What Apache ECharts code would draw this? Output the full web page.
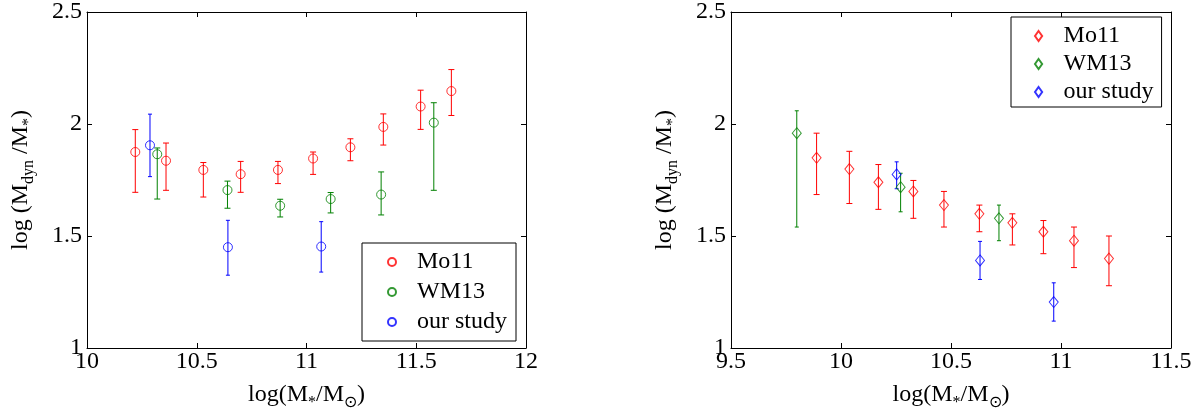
<!DOCTYPE html>
<html>
<head>
<meta charset="utf-8">
<script src="https://cdn.jsdelivr.net/npm/echarts@6/dist/echarts.min.js"></script>
<style>html,body{margin:0;padding:0;background:#fff}#c{width:1203px;height:416px}</style>
</head>
<body>
<div id="c"></div>
<script>
// ---- Left panel (circles) ----
const leftMo11X  = [10.22, 10.36, 10.53, 10.70, 10.87, 11.03, 11.20, 11.35, 11.52, 11.66];
const leftMo11Y  = [1.875, 1.836, 1.795, 1.776, 1.795, 1.846, 1.896, 1.987, 2.078, 2.147];
const leftMo11Lo = [1.695, 1.704, 1.674, 1.695, 1.734, 1.775, 1.836, 1.906, 1.976, 2.038];
const leftMo11Hi = [1.975, 1.915, 1.828, 1.833, 1.833, 1.875, 1.934, 2.045, 2.151, 2.243];

const leftWM13X  = [10.32, 10.64, 10.88, 11.11, 11.34, 11.58];
const leftWM13Y  = [1.865, 1.705, 1.635, 1.665, 1.685, 2.006];
const leftWM13Lo = [1.665, 1.624, 1.585, 1.603, 1.594, 1.704];
const leftWM13Hi = [1.893, 1.745, 1.664, 1.694, 1.786, 2.095];

const leftOursX  = [10.287, 10.642, 11.067];
const leftOursY  = [1.905, 1.450, 1.453];
const leftOursLo = [1.765, 1.325, 1.339];
const leftOursHi = [2.044, 1.570, 1.564];

// ---- Right panel (diamonds) ----
const rightMo11X  = [9.889, 10.038, 10.170, 10.329, 10.468, 10.629, 10.779, 10.920, 11.059, 11.218];
const rightMo11Y  = [1.849, 1.799, 1.740, 1.699, 1.638, 1.599, 1.559, 1.519, 1.479, 1.399];
const rightMo11Lo = [1.685, 1.645, 1.619, 1.579, 1.540, 1.519, 1.460, 1.421, 1.359, 1.278];
const rightMo11Hi = [1.959, 1.878, 1.819, 1.748, 1.699, 1.638, 1.599, 1.569, 1.540, 1.500];

const rightWM13X  = [9.799, 10.271, 10.718];
const rightWM13Y  = [1.959, 1.718, 1.579];
const rightWM13Lo = [1.540, 1.608, 1.479];
const rightWM13Hi = [2.059, 1.780, 1.638];

const rightOursX  = [10.253, 10.632, 10.967];
const rightOursY  = [1.775, 1.391, 1.205];
const rightOursLo = [1.711, 1.306, 1.120];
const rightOursHi = [1.831, 1.476, 1.291];

const seriesNames = ['Mo11', 'WM13', 'our study'];
const leftXTicks  = {min: 10, max: 12, interval: 0.5};
const rightXTicks = {min: 9.5, max: 11.5, interval: 0.5};
const yTicks      = {min: 1, max: 2.5, interval: 0.5};

const RED = '#ff0000', GREEN = '#008000', BLUE = '#0000ff';
const FONT = 'Liberation Serif';

function pts(xs, ys) { return xs.map((x, i) => [x, ys[i]]); }
function errs(xs, lo, hi) { return xs.map((x, i) => [x, lo[i], hi[i]]); }

function errRender(capHalf) {
  return function (params, api) {
    const x = api.value(0), lo = api.value(1), hi = api.value(2);
    const a = api.coord([x, lo]), b = api.coord([x, hi]);
    const st = {stroke: api.visual('color'), lineWidth: 1};
    return {
      type: 'group',
      children: [
        {type: 'line', shape: {x1: a[0], y1: a[1], x2: b[0], y2: b[1]}, style: st},
        {type: 'line', shape: {x1: a[0] - capHalf, y1: a[1], x2: a[0] + capHalf, y2: a[1]}, style: st},
        {type: 'line', shape: {x1: b[0] - capHalf, y1: b[1], x2: b[0] + capHalf, y2: b[1]}, style: st}
      ]
    };
  };
}

function errSeries(id, gi, data, color, cap) {
  return {
    type: 'custom', name: id, xAxisIndex: gi * 2, yAxisIndex: gi * 2,
    data: data, encode: {x: 0, y: [1, 2]},
    itemStyle: {color: color}, renderItem: errRender(cap), silent: true, z: 2
  };
}
function markSeries(name, gi, data, color, symbol, size) {
  return {
    type: 'scatter', name: name, xAxisIndex: gi * 2, yAxisIndex: gi * 2,
    data: data, symbol: symbol, symbolSize: size,
    itemStyle: {color: 'rgba(0,0,0,0)', borderColor: color, borderWidth: 1},
    z: 3
  };
}

const tickLbl = {fontFamily: FONT, fontSize: 24, color: '#000'};
const nameRich = {
  n: {fontFamily: FONT, fontSize: 24, color: '#000', lineHeight: 24, verticalAlign: 'top'},
  s: {fontFamily: FONT, fontSize: 16, color: '#000', lineHeight: 16, verticalAlign: 'top', padding: [12, 0, 0, 0]}
};
function xAx(gi, t, pos, showLabels, nameTxt) {
  return {
    type: 'value', gridIndex: gi, position: pos, min: t.min, max: t.max, interval: t.interval,
    axisLine: {show: true, onZero: false, lineStyle: {color: '#000', width: 1}},
    axisTick: {show: true, inside: true, length: 5, lineStyle: {color: '#000'}},
    axisLabel: Object.assign({show: showLabels, margin: 2, showMinLabel: true, showMaxLabel: true}, tickLbl),
    splitLine: {show: false},
    name: nameTxt || '', nameLocation: 'middle', nameGap: 35,
    nameTextStyle: {fontFamily: FONT, fontSize: 24, color: '#000', rich: nameRich}
  };
}
function yAx(gi, t, pos, showLabels, nameTxt) {
  return {
    type: 'value', gridIndex: gi, position: pos, min: t.min, max: t.max, interval: t.interval,
    axisLine: {show: true, onZero: false, lineStyle: {color: '#000', width: 1}},
    axisTick: {show: true, inside: true, length: 5, lineStyle: {color: '#000'}},
    axisLabel: Object.assign({show: showLabels, margin: 5, showMinLabel: true, showMaxLabel: true}, tickLbl),
    splitLine: {show: false},
    name: nameTxt || '', nameLocation: 'middle', nameGap: 54, nameRotate: 90,
    nameTextStyle: {fontFamily: FONT, fontSize: 24, color: '#000', rich: nameRich}
  };
}

const xName = '{n|log(M}{s|*}{n|/M}{s|⊙}{n|)}';
const yName = '{n|log (M}{s|dyn}{n| /M}{s|*}{n|)}';

const diamondPath = 'path://M0,-1.4L1,0L0,1.4L-1,0Z';

const option = {
  animation: false,
  backgroundColor: '#fff',
  grid: [
    {left: 87, right: 677, top: 8, bottom: 67},
    {left: 731, right: 32, top: 8, bottom: 67}
  ],
  xAxis: [
    xAx(0, leftXTicks, 'bottom', true, xName),
    xAx(0, leftXTicks, 'top', false, ''),
    xAx(1, rightXTicks, 'bottom', true, xName),
    xAx(1, rightXTicks, 'top', false, '')
  ],
  yAxis: [
    yAx(0, yTicks, 'left', true, yName),
    yAx(0, yTicks, 'right', false, ''),
    yAx(1, yTicks, 'left', true, yName),
    yAx(1, yTicks, 'right', false, '')
  ],
  legend: [
    {
      orient: 'vertical', left: 362, top: 243, padding: [6, 9, 6, 25], itemGap: 4,
      itemWidth: 40, itemHeight: 8, borderColor: '#000', borderWidth: 1, backgroundColor: '#fff',
      selectedMode: false,
      textStyle: {fontFamily: FONT, fontSize: 24, color: '#000', lineHeight: 26},
      data: seriesNames.map(n => ({name: n, icon: 'circle'}))
    },
    {
      orient: 'vertical', left: 1011, top: 17, padding: [6, 8, 2, 23], itemGap: 2,
      itemWidth: 40, itemHeight: 10, borderColor: '#000', borderWidth: 1, backgroundColor: '#fff',
      selectedMode: false,
      textStyle: {fontFamily: FONT, fontSize: 24, color: '#000', lineHeight: 26},
      data: seriesNames.map(n => ({name: n, icon: diamondPath}))
    }
  ],
  series: [
    errSeries('eLM', 0, errs(leftMo11X, leftMo11Lo, leftMo11Hi), RED, 3),
    errSeries('eLW', 0, errs(leftWM13X, leftWM13Lo, leftWM13Hi), GREEN, 3),
    errSeries('eLO', 0, errs(leftOursX, leftOursLo, leftOursHi), BLUE, 2),
    markSeries('Mo11', 0, pts(leftMo11X, leftMo11Y), RED, 'circle', 9),
    markSeries('WM13', 0, pts(leftWM13X, leftWM13Y), GREEN, 'circle', 9),
    markSeries('our study', 0, pts(leftOursX, leftOursY), BLUE, 'circle', 9),
    errSeries('eRM', 1, errs(rightMo11X, rightMo11Lo, rightMo11Hi), RED, 3),
    errSeries('eRW', 1, errs(rightWM13X, rightWM13Lo, rightWM13Hi), GREEN, 2),
    errSeries('eRO', 1, errs(rightOursX, rightOursLo, rightOursHi), BLUE, 2),
    markSeries('Mo11', 1, pts(rightMo11X, rightMo11Y), RED, 'diamond', [9, 11]),
    markSeries('WM13', 1, pts(rightWM13X, rightWM13Y), GREEN, 'diamond', [9, 11]),
    markSeries('our study', 1, pts(rightOursX, rightOursY), BLUE, 'diamond', [9, 11])
  ]
};

const chart = echarts.init(document.getElementById('c'), null, {renderer: 'canvas'});
chart.setOption(option);
</script>
</body>
</html>
